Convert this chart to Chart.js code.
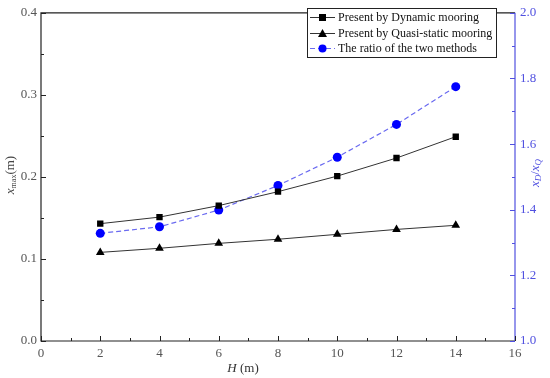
<!DOCTYPE html>
<html>
<head>
<meta charset="utf-8">
<script src="https://cdn.jsdelivr.net/npm/chart.js@4"></script>
<style>
  html, body { margin: 0; padding: 0; background: #fff; }
  #wrap { width: 550px; height: 378px; }
</style>
</head>
<body>
<div id="wrap"><canvas id="chart" width="550" height="378"></canvas></div>
<script>
// data
const depths = [2, 4, 6, 8, 10, 12, 14];
const dynamicMooring = [0.143, 0.151, 0.165, 0.182, 0.201, 0.223, 0.249];
const quasiStatic = [0.108, 0.113, 0.119, 0.124, 0.130, 0.136, 0.141];
const ratio = [1.328, 1.348, 1.399, 1.474, 1.560, 1.660, 1.775];

const FONT = '"Liberation Serif", "DejaVu Serif", serif';
const BLUE = '#0000ff';
const AXIS_BLUE = '#5050e0';

function pts(ys) {
    return depths.map((x, i) => ({ x: x, y: ys[i] }));
}

// frame, inward ticks, axis titles and legend
const decorations = {
    id: 'decorations',
    afterDraw(chart) {
        const ctx = chart.ctx;
        const a = chart.chartArea;
        const xs = chart.scales.x, ys = chart.scales.y, y1 = chart.scales.y1;
        ctx.save();

        // frame
        ctx.lineWidth = 1.2;
        ctx.strokeStyle = '#222';
        ctx.beginPath();
        ctx.moveTo(a.right, a.top); ctx.lineTo(a.left, a.top);
        ctx.lineTo(a.left, a.bottom); ctx.lineTo(a.right, a.bottom);
        ctx.stroke();
        ctx.strokeStyle = AXIS_BLUE;
        ctx.beginPath();
        ctx.moveTo(a.right, a.top); ctx.lineTo(a.right, a.bottom);
        ctx.stroke();

        // x ticks (pointing up)
        ctx.strokeStyle = '#222';
        ctx.lineWidth = 1;
        for (let v = 0; v <= 16; v += 1) {
            const px = Math.round(xs.getPixelForValue(v)) + 0.5;
            const len = v % 2 === 0 ? 5 : 3;
            ctx.beginPath(); ctx.moveTo(px, a.bottom); ctx.lineTo(px, a.bottom - len); ctx.stroke();
        }
        // left ticks
        for (let i = 0; i <= 8; i++) {
            const py = Math.round(ys.getPixelForValue(i * 0.05)) + 0.5;
            const len = i % 2 === 0 ? 5 : 3;
            ctx.beginPath(); ctx.moveTo(a.left, py); ctx.lineTo(a.left + len, py); ctx.stroke();
        }
        // right ticks
        ctx.strokeStyle = AXIS_BLUE;
        for (let i = 0; i <= 10; i++) {
            const py = Math.round(y1.getPixelForValue(1 + i * 0.1)) + 0.5;
            const len = i % 2 === 0 ? 5 : 3;
            ctx.beginPath(); ctx.moveTo(a.right, py); ctx.lineTo(a.right - len, py); ctx.stroke();
        }

        // x title
        ctx.fillStyle = '#333';
        ctx.textBaseline = 'middle';
        ctx.textAlign = 'left';
        ctx.font = 'italic 13px ' + FONT;
        const cx = 243;
        const t1 = 'H', t2 = ' (m)';
        const w1 = ctx.measureText(t1).width;
        ctx.font = '13px ' + FONT;
        const w2 = ctx.measureText(t2).width;
        let sx = cx - (w1 + w2) / 2;
        ctx.font = 'italic 13px ' + FONT;
        ctx.fillText(t1, sx, 369);
        ctx.font = '13px ' + FONT;
        ctx.fillText(t2, sx + w1, 369);

        // left title: x_max(m), rotated
        ctx.save();
        ctx.translate(11, 175);
        ctx.rotate(-Math.PI / 2);
        drawRich(ctx, [
            { t: 'x', f: 'italic 13px ' + FONT, dy: 0 },
            { t: 'max', f: '8px ' + FONT, dy: 3 },
            { t: '(m)', f: '13px ' + FONT, dy: 0 }
        ], '#444');
        ctx.restore();

        // right title: x_D/x_Q, also reading bottom to top
        ctx.save();
        ctx.translate(536, 173);
        ctx.rotate(-Math.PI / 2);
        drawRich(ctx, [
            { t: 'x', f: 'italic 13px ' + FONT, dy: 0 },
            { t: 'D', f: 'italic 9px ' + FONT, dy: 3 },
            { t: '/', f: '13px ' + FONT, dy: 0 },
            { t: 'x', f: 'italic 13px ' + FONT, dy: 0 },
            { t: 'Q', f: 'italic 9px ' + FONT, dy: 3 }
        ], AXIS_BLUE);
        ctx.restore();

        // legend box
        const bx = 307, by = 8, bw = 189, bh = 49;
        ctx.fillStyle = '#fff';
        ctx.fillRect(bx, by, bw, bh);
        ctx.strokeStyle = '#222';
        ctx.lineWidth = 1;
        ctx.strokeRect(bx + 0.5, by + 0.5, bw, bh);
        const rows = [17.5, 33.5, 48.5];
        chart.data.datasets.forEach((ds, i) => {
            const ry = rows[i];
            ctx.strokeStyle = ds.borderColor;
            ctx.lineWidth = ds.borderWidth;
            ctx.setLineDash(ds.borderDash || []);
            ctx.beginPath(); ctx.moveTo(310, ry); ctx.lineTo(335, ry); ctx.stroke();
            ctx.setLineDash([]);
            ctx.fillStyle = ds.pointBackgroundColor;
            ctx.beginPath();
            if (ds.pointStyle === 'rect') {
                ctx.rect(322.5 - 3.5, ry - 3.5, 7, 7);
            } else if (ds.pointStyle === 'triangle') {
                ctx.moveTo(322.5, ry - 4.5); ctx.lineTo(327, ry + 3.5); ctx.lineTo(318, ry + 3.5); ctx.closePath();
            } else {
                ctx.arc(322.5, ry, 4, 0, Math.PI * 2);
            }
            ctx.fill();
            ctx.fillStyle = '#111';
            ctx.font = '12px ' + FONT;
            ctx.textAlign = 'left';
            ctx.textBaseline = 'middle';
            ctx.fillText(ds.label, 338, ry + 0.5);
        });

        ctx.restore();
    }
};

function drawRich(ctx, parts, color) {
    ctx.fillStyle = color;
    ctx.textBaseline = 'middle';
    ctx.textAlign = 'left';
    let total = 0;
    parts.forEach(p => { ctx.font = p.f; total += ctx.measureText(p.t).width; });
    let x = -total / 2;
    parts.forEach(p => {
        ctx.font = p.f;
        ctx.fillText(p.t, x, p.dy);
        x += ctx.measureText(p.t).width;
    });
}

const tickFont = { family: FONT, size: 13 };

new Chart(document.getElementById('chart'), {
    type: 'line',
    data: {
        datasets: [
            {
                label: 'Present by Dynamic mooring',
                data: pts(dynamicMooring),
                yAxisID: 'y',
                borderColor: '#333',
                borderWidth: 1,
                pointStyle: 'rect',
                pointRadius: 4.5,
                pointBackgroundColor: '#000',
                pointBorderColor: '#000',
                pointBorderWidth: 0
            },
            {
                label: 'Present by Quasi-static mooring',
                data: pts(quasiStatic),
                yAxisID: 'y',
                borderColor: '#333',
                borderWidth: 1,
                pointStyle: 'triangle',
                pointRadius: 5,
                pointBackgroundColor: '#000',
                pointBorderColor: '#000',
                pointBorderWidth: 0
            },
            {
                label: 'The ratio of the two methods',
                data: pts(ratio),
                yAxisID: 'y1',
                borderColor: '#6a6af0',
                borderWidth: 1.2,
                borderDash: [5, 3],
                pointStyle: 'circle',
                pointRadius: 4.5,
                pointBackgroundColor: BLUE,
                pointBorderColor: BLUE,
                pointBorderWidth: 0
            }
        ]
    },
    options: {
        responsive: false,
        animation: false,
        devicePixelRatio: 1,
        layout: { padding: { top: 6, left: 0, right: 0, bottom: 0 } },
        plugins: { legend: { display: false }, tooltip: { enabled: false } },
        scales: {
            x: {
                type: 'linear',
                min: 0, max: 16,
                grid: { display: false, drawTicks: false },
                border: { display: false },
                ticks: { stepSize: 2, padding: 5, color: '#555', font: tickFont },
                afterFit(s) { s.height = 37; }
            },
            y: {
                position: 'left',
                min: 0, max: 0.4,
                grid: { display: false, drawTicks: false },
                border: { display: false },
                ticks: {
                    stepSize: 0.1, padding: 4, color: '#555', font: tickFont,
                    callback: v => v.toFixed(1)
                },
                afterFit(s) { s.width = 41; }
            },
            y1: {
                position: 'right',
                min: 1, max: 2,
                grid: { display: false, drawTicks: false },
                border: { display: false },
                ticks: {
                    stepSize: 0.2, padding: 5, color: AXIS_BLUE, font: tickFont,
                    callback: v => v.toFixed(1)
                },
                afterFit(s) { s.width = 35; }
            }
        }
    },
    plugins: [decorations]
});
</script>
</body>
</html>
